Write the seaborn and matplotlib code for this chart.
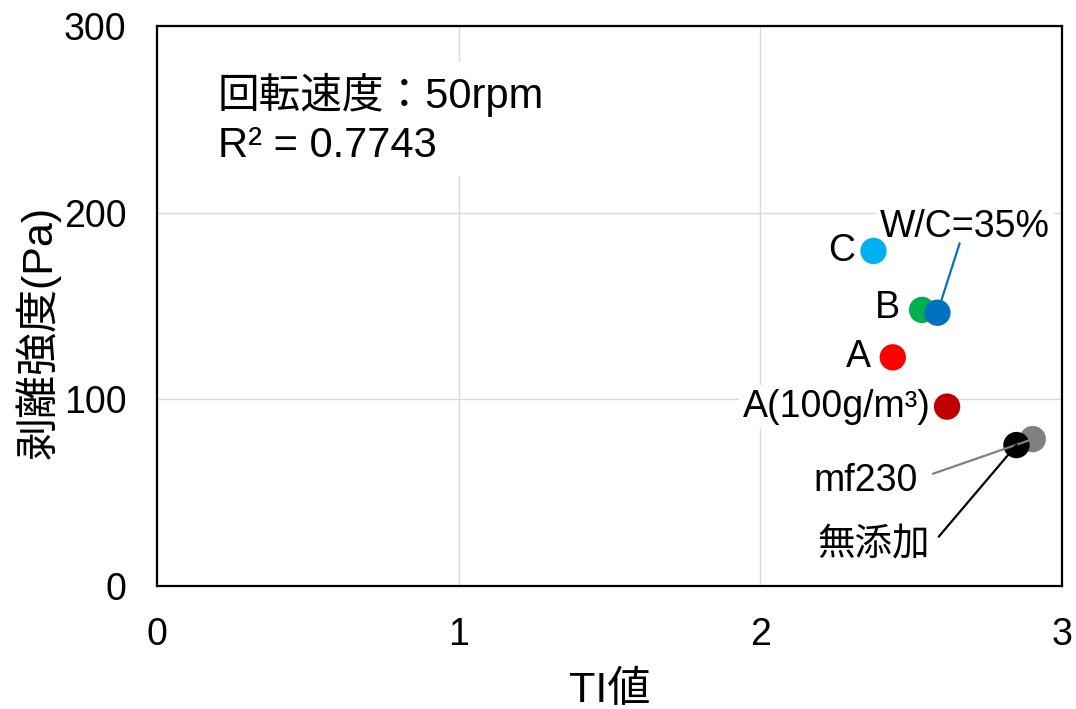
import matplotlib
matplotlib.use("Agg")
import matplotlib.pyplot as plt
import seaborn as sns
import pandas as pd

# Thixotropy index vs. peel strength at 50 rpm
labels = ["C", "B", "W/C=35%", "A", "A(100g/m³)", "mf230", "無添加"]
ti_values = [2.375, 2.536, 2.587, 2.439, 2.619, 2.903, 2.849]
peel_strength = [179.5, 147.9, 146.4, 122.5, 96.1, 78.7, 75.5]
colors = ["#00B0F0", "#00B050", "#0070C0", "#FF0000", "#C00000", "#808080", "#000000"]

x_ticks = [0, 1, 2, 3]
y_ticks = [0, 100, 200, 300]
speed_note = "回転速度：50rpm"
r_squared = "0.7743"

df = pd.DataFrame({"TI": ti_values, "peel": peel_strength, "label": labels})

sns.set_theme(style="white")
plt.rcParams["font.family"] = ["Liberation Sans", "Noto Sans CJK JP", "DejaVu Sans"]

fig = plt.figure(figsize=(10.76, 7.09), dpi=100)
ax = fig.add_axes([0.1459, 0.1735, 0.8411, 0.7898])

ax.grid(True, color="#D9D9D9", linewidth=1.0, zorder=0.5)
ax.set_axisbelow(True)

sns.scatterplot(data=df, x="TI", y="peel", hue="label", palette=dict(zip(labels, colors)),
                s=360, linewidth=0, legend=False, ax=ax, zorder=3)

ax.set_xlim(0, 3)
ax.set_ylim(0, 300)
ax.set_xticks(x_ticks)
ax.set_yticks(y_ticks)
ax.tick_params(axis="both", length=0, labelsize=27, colors="black")
ax.tick_params(axis="y", pad=22)
ax.tick_params(axis="x", pad=22)
for sp in ax.spines.values():
    sp.set_color("black")
    sp.set_linewidth(1.6)

ax.set_xlabel("TI値", fontsize=31, labelpad=13, color="black")
ax.set_ylabel("剥離強度(Pa)", fontsize=31, color="black")
ax.yaxis.set_label_coords(-0.106, 0.4536)

# point labels: text offset (points) and alignment
label_style = {
    "C": ((-13, 0), "right"),
    "B": ((-16, 1.5), "right"),
    "A": ((-16, 0), "right"),
    "A(100g/m³)": ((-12, 0), "right"),
    "W/C=35%": ((20, 62), "center"),
    "mf230": ((-120, -30), "center"),
    "無添加": ((-103, -72), "center"),
}
# leader lines: start offset (points), colour, gap left at the marker (points)
leaders = {
    "W/C=35%": ((16, 50), "#0070C0", 9),
    "mf230": ((-72, -25), "#808080", 0),
    "無添加": ((-56, -66), "#000000", 0),
}

box = dict(boxstyle="square,pad=0.1", fc="white", ec="none")
for name, xv, yv in zip(labels, ti_values, peel_strength):
    (dx, dy), ha = label_style[name]
    ax.annotate(name, xy=(xv, yv), xytext=(dx, dy), textcoords="offset points",
                ha=ha, va="center", fontsize=27, color="black", bbox=box, zorder=2)
    if name in leaders:
        (sx, sy), lc, gap = leaders[name]
        ax.annotate("", xy=(xv, yv), xytext=(sx, sy), textcoords="offset points",
                    arrowprops=dict(arrowstyle="-", color=lc, lw=1.6,
                                    shrinkA=0, shrinkB=gap),
                    zorder=4)

ax.text(0.067, 0.917, f"{speed_note}\nR² = {r_squared}", transform=ax.transAxes,
        ha="left", va="top", fontsize=30, color="black", linespacing=1.3,
        bbox=dict(boxstyle="square,pad=0.25", fc="white", ec="none"), zorder=2)

fig.savefig("out.png", dpi=100)
